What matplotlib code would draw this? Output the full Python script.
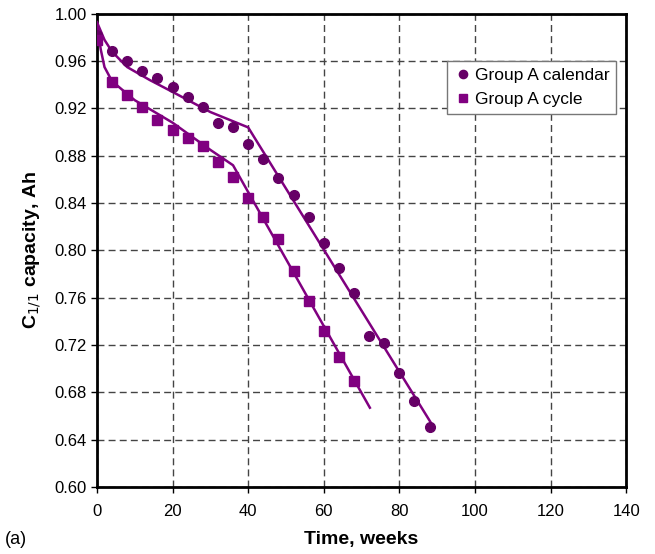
import numpy as np
import matplotlib
matplotlib.use("Agg")
import matplotlib.pyplot as plt

plt.rcParams['font.family'] = ['Liberation Sans', 'DejaVu Sans']

# measured data (weeks, Ah)
cal_weeks = [0, 4, 8, 12, 16, 20, 24, 28, 32, 36, 40, 44, 48, 52, 56, 60, 64, 68, 72, 76, 80, 84, 88]
cal_cap = [0.982, 0.969, 0.960, 0.952, 0.946, 0.938, 0.930, 0.921, 0.908, 0.904, 0.890, 0.877,
           0.861, 0.847, 0.828, 0.806, 0.785, 0.764, 0.728, 0.722, 0.696, 0.673, 0.651]

cyc_weeks = [0, 4, 8, 12, 16, 20, 24, 28, 32, 36, 40, 44, 48, 52, 56, 60, 64, 68]
cyc_cap = [0.978, 0.942, 0.931, 0.921, 0.910, 0.902, 0.895, 0.888, 0.875, 0.862, 0.844, 0.828,
           0.810, 0.783, 0.757, 0.732, 0.710, 0.690]

# model fit lines
cal_fit_t = [0, 2, 4, 8, 14, 20, 30, 40, 88.4]
cal_fit_c = [0.993, 0.978, 0.968, 0.955, 0.944, 0.934, 0.917, 0.904, 0.654]

cyc_fit_t = [0, 1, 2, 4, 10, 20, 30, 36, 72.2]
cyc_fit_c = [0.992, 0.970, 0.955, 0.943, 0.927, 0.908, 0.885, 0.872, 0.667]

fig = plt.figure(figsize=(6.55, 5.54), dpi=100)
ax = fig.add_axes([0.148, 0.121, 0.808, 0.854])

line_col = "#800080"
ax.plot(cal_fit_t, cal_fit_c, color=line_col, lw=1.8, zorder=3)
ax.plot(cyc_fit_t, cyc_fit_c, color=line_col, lw=1.8, zorder=3)
ax.plot(cal_weeks, cal_cap, 'o', color="#660066", ms=7, ls='none', label="Group A calendar", zorder=4)
ax.plot(cyc_weeks, cyc_cap, 's', color="#800080", ms=7, ls='none', label="Group A cycle", zorder=4)

ax.set_xlim(0, 140)
ax.set_ylim(0.60, 1.00)
ax.set_xticks(np.arange(0, 141, 20))
ax.set_yticks(np.arange(0.60, 1.001, 0.04))
ax.yaxis.set_major_formatter(matplotlib.ticker.FormatStrFormatter('%.2f'))
ax.grid(True, ls=(0, (5, 3)), color="#444444", lw=1.0)
ax.tick_params(direction='out', length=4, labelsize=12, width=1)
ax.tick_params(axis='x', pad=8)
for s in ax.spines.values():
    s.set_linewidth(2)

ax.set_xlabel("Time, weeks", fontsize=14, fontweight='bold', labelpad=9)
ax.set_ylabel("C$_{1/1}$ capacity, Ah", fontsize=14, fontweight='bold', labelpad=8)

leg = ax.legend(loc='upper right', bbox_to_anchor=(0.998, 0.918), fontsize=12.5,
                handletextpad=0.2, handlelength=1.0, markerscale=0.85,
                fancybox=False, edgecolor="#777777", framealpha=1, borderpad=0.4)

fig.text(0.008, 0.018, "(a)", fontsize=13)

fig.savefig("out.png", dpi=100)
